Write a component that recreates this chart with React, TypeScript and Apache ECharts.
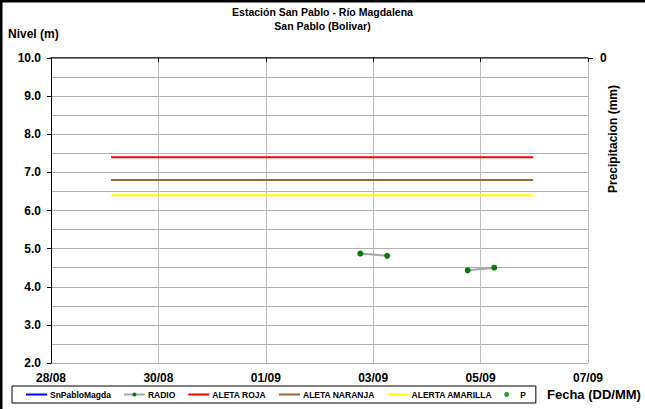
import React, { useEffect, useRef } from "react";
import * as echarts from "echarts";

const BASE = Date.UTC(2021, 7, 28);
const DAY = 86400000;

const titleLines = ["Estación San Pablo - Río Magdalena", "San Pablo (Bolivar)"];
const seriesNames = ["SnPabloMagda", "RADIO", "ALETA ROJA", "ALETA NARANJA", "ALERTA AMARILLA", "P"];

const radioTimes = ["2021-09-02T18:15", "2021-09-03T06:15", null, "2021-09-04T18:15", "2021-09-05T06:05"];
const radioValues = [4.87, 4.81, null, 4.43, 4.5];

const alertTimes = ["2021-08-29T02:50", "2021-09-05T23:30"];
const redValues = [7.4, 7.4];
const orangeValues = [6.8, 6.8];
const yellowValues = [6.4, 6.4];

const toDay = (s: string | null) => (s === null ? null : (Date.parse(s + ":00Z") - BASE) / DAY);
const pairs = (times: (string | null)[], vals: (number | null)[]) =>
  times.map((t, i) => (t === null || vals[i] === null ? [null, null] : [toDay(t), vals[i]]));

const FONT = "Liberation Sans, Arial, sans-serif";

export default function App() {
  const ref = useRef<HTMLDivElement>(null);
  useEffect(() => {
    document.body.style.margin = "0";
    const chart = echarts.init(ref.current!, null, { renderer: "svg" });
    const fmtDate = (v: number) => {
      const d = new Date(BASE + v * DAY);
      const dd = String(d.getUTCDate()).padStart(2, "0");
      const mm = String(d.getUTCMonth() + 1).padStart(2, "0");
      return dd + "/" + mm;
    };
    const legendData = seriesNames.map((n) =>
      n === "RADIO" || n === "P" ? { name: n } : { name: n, itemStyle: { opacity: 0 } }
    );
    chart.setOption({
      animation: false,
      backgroundColor: "#ffffff",
      textStyle: { fontFamily: FONT },
      title: {
        text: titleLines.join("\n"),
        left: "center",
        top: 0,
        textStyle: { fontSize: 10.5, fontWeight: "bold", color: "#000", lineHeight: 14, fontFamily: FONT },
      },
      grid: { left: 51, right: 57, top: 58, bottom: 46, show: false },
      legend: {
        left: 12,
        top: 386,
        data: legendData,
        orient: "horizontal",
        borderColor: "#000",
        borderWidth: 1,
        padding: [4, 10, 4, 13],
        itemGap: 12,
        itemWidth: 21,
        itemHeight: 5,
        textStyle: { fontSize: 8.5, fontWeight: "bold", color: "#000", fontFamily: FONT, padding: [0, 0, 0, -2] },
      },
      xAxis: [
        {
          type: "value",
          min: 0,
          max: 10,
          interval: 2,
          axisLine: { show: true, lineStyle: { color: "#000", width: 1.5 } },
          axisTick: { show: true, length: 4, lineStyle: { color: "#000" } },
          axisLabel: {
            formatter: (v: number) => fmtDate(v),
            fontSize: 12,
            fontWeight: "bold",
            color: "#000",
            margin: 9,
          },
          splitLine: { show: true, lineStyle: { color: "#c0c0c0", width: 1 } },
        },
        {
          type: "value",
          position: "top",
          min: 0,
          max: 10,
          interval: 2,
          axisLine: { show: true, lineStyle: { color: "#808080", width: 1 } },
          axisTick: { show: false },
          axisLabel: { show: false },
          splitLine: { show: false },
        },
      ],
      yAxis: [
        {
          type: "value",
          min: 2,
          max: 10,
          interval: 1,
          axisLine: { show: true, lineStyle: { color: "#000", width: 1 } },
          axisTick: { show: true, length: 4, lineStyle: { color: "#000" } },
          axisLabel: {
            formatter: (v: number) => v.toFixed(1),
            fontSize: 12,
            fontWeight: "bold",
            color: "#000",
            margin: 10,
          },
          splitLine: { show: true, lineStyle: { color: "#b0b0b0", width: 1.2 } },
          minorTick: { show: false, splitNumber: 2 },
          minorSplitLine: { show: true, lineStyle: { color: "#b0b0b0", width: 1.2 } },
        },
        {
          type: "value",
          min: 0,
          max: 10,
          interval: 10,
          inverse: true,
          position: "right",
          axisLine: { show: true, lineStyle: { color: "#000", width: 1 } },
          axisTick: { show: false },
          axisLabel: {
            fontSize: 12,
            fontWeight: "bold",
            color: "#000",
            margin: 12,
            formatter: (v: number) => (v === 0 ? "0" : ""),
          },
          splitLine: { show: false },
        },
      ],
      graphic: [
        { type: "line", shape: { x1: 1, y1: 0, x2: 1, y2: 409 }, style: { stroke: "#000", lineWidth: 3 } },
        { type: "line", shape: { x1: 0, y1: 1, x2: 645, y2: 1 }, style: { stroke: "#000", lineWidth: 3 } },
        { type: "line", shape: { x1: 588, y1: 58.5, x2: 593, y2: 58.5 }, style: { stroke: "#000", lineWidth: 1 } },
        {
          type: "text",
          x: 8,
          y: 28,
          style: { text: "Nivel (m)", fontSize: 12, fontWeight: "bold", fill: "#000", fontFamily: FONT },
        },
        {
          type: "text",
          x: 547,
          y: 388,
          style: { text: "Fecha (DD/MM)", fontSize: 13, fontWeight: "bold", fill: "#000", fontFamily: FONT },
        },
        {
          type: "text",
          x: 613,
          y: 139,
          rotation: Math.PI / 2,
          style: {
            text: "Precipitacion (mm)",
            fontSize: 12,
            fontWeight: "bold",
            fill: "#000",
            fontFamily: FONT,
            align: "center",
            verticalAlign: "middle",
          },
        },
      ],
      series: [
        { name: seriesNames[0], type: "line", data: [], symbol: "none", lineStyle: { color: "#0000ff", width: 2 }, itemStyle: { color: "#0000ff" } },
        {
          name: seriesNames[1],
          type: "line",
          data: pairs(radioTimes, radioValues),
          connectNulls: false,
          symbol: "circle",
          symbolSize: 6,
          lineStyle: { color: "#a6a6a6", width: 2 },
          itemStyle: { color: "#008000" },
          z: 5,
        },
        { name: seriesNames[2], type: "line", data: pairs(alertTimes, redValues), symbol: "none", lineStyle: { color: "#ff0000", width: 2 }, itemStyle: { color: "#ff0000" }, z: 3 },
        { name: seriesNames[3], type: "line", data: pairs(alertTimes, orangeValues), symbol: "none", lineStyle: { color: "#996633", width: 2 }, itemStyle: { color: "#996633" }, z: 3 },
        { name: seriesNames[4], type: "line", data: pairs(alertTimes, yellowValues), symbol: "none", lineStyle: { color: "#ffff00", width: 2 }, itemStyle: { color: "#ffff00" }, z: 3 },
        { name: seriesNames[5], type: "scatter", yAxisIndex: 1, data: [], symbolSize: 3, itemStyle: { color: "#008000" } },
      ],
    });
    return () => chart.dispose();
  }, []);
  return <div ref={ref} style={{ width: 645, height: 409 }} />;
}
